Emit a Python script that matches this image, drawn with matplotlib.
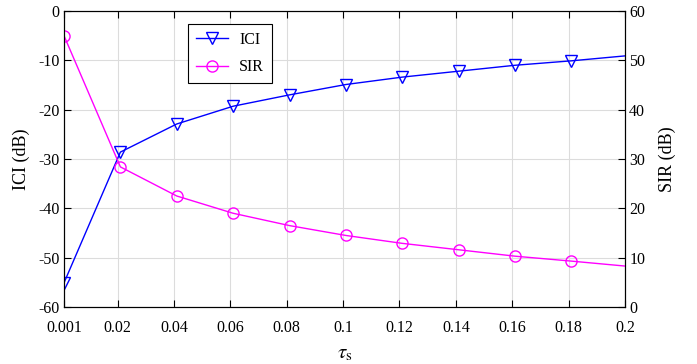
import matplotlib
matplotlib.use("Agg")
import matplotlib.pyplot as plt

plt.rcParams['font.family'] = ['Liberation Serif', 'DejaVu Serif']
plt.rcParams['mathtext.fontset'] = 'stix'

tau = [0.001, 0.021, 0.041, 0.061, 0.081, 0.101, 0.121, 0.141, 0.161, 0.181, 0.2]
ici = [-55.1, -28.6, -22.9, -19.3, -17.0, -14.9, -13.4, -12.2, -11.0, -10.1, -9.1]
sir = [55.0, 28.4, 22.5, 19.0, 16.5, 14.5, 12.9, 11.6, 10.3, 9.3, 8.3]
xticks = [0.001, 0.02, 0.04, 0.06, 0.08, 0.1, 0.12, 0.14, 0.16, 0.18, 0.2]
xticklabels = ['0.001', '0.02', '0.04', '0.06', '0.08', '0.1', '0.12', '0.14', '0.16', '0.18', '0.2']

fig = plt.figure(figsize=(6.97, 3.64), dpi=100)
ax = fig.add_axes([64/697, 1-307/364, (625-64)/697, (307-11)/364])
ax2 = ax.twinx()

fs = 11.5
l1, = ax.plot(tau, ici, color='#0000ff', lw=1.0, marker='v', ms=8, mfc='none',
              mec='#0000ff', mew=1.0, markevery=list(range(len(tau)-1)), label='ICI')
l2, = ax2.plot(tau, sir, color='#ff00ff', lw=1.0, marker='o', ms=8, mfc='none',
               mec='#ff00ff', mew=1.0, markevery=list(range(len(tau)-1)), label='SIR')

ax.set_xlim(0.001, 0.2)
ax.set_ylim(-60, 0)
ax2.set_ylim(0, 60)
ax.set_xticks(xticks)
ax.set_xticklabels(xticklabels, fontsize=fs)
ax.set_yticks(range(-60, 1, 10))
ax.set_yticklabels([str(v) for v in range(-60, 1, 10)], fontsize=fs)
ax2.set_yticks(range(0, 61, 10))
ax2.set_yticklabels([str(v) for v in range(0, 61, 10)], fontsize=fs)

ax.grid(True, color='#dcdcdc', lw=0.8)
ax.set_axisbelow(True)
ax.tick_params(axis='both', direction='in', length=5, top=True, width=0.8)
ax.tick_params(axis='x', pad=9)
ax.tick_params(axis='y', pad=3)
ax2.tick_params(axis='y', direction='in', length=5, width=0.8, pad=3)
for a in (ax, ax2):
    for s in a.spines.values():
        s.set_linewidth(0.8)

ax.set_xlabel(r'$\tau_{\rm s}$', fontsize=15, labelpad=6)
ax.set_ylabel('ICI (dB)', fontsize=13, labelpad=6)
ax2.set_ylabel('SIR (dB)', fontsize=13, labelpad=10)

leg = ax.legend([l1, l2], ['ICI', 'SIR'], loc='upper left',
                bbox_to_anchor=((188-64)/561, (307-24)/296), borderaxespad=0,
                fontsize=fs, frameon=True, fancybox=False, edgecolor='black',
                framealpha=1, handlelength=2.0, handletextpad=0.7,
                borderpad=0.5, labelspacing=0.7)
leg.get_frame().set_linewidth(0.8)

fig.savefig('out.png', dpi=100)
